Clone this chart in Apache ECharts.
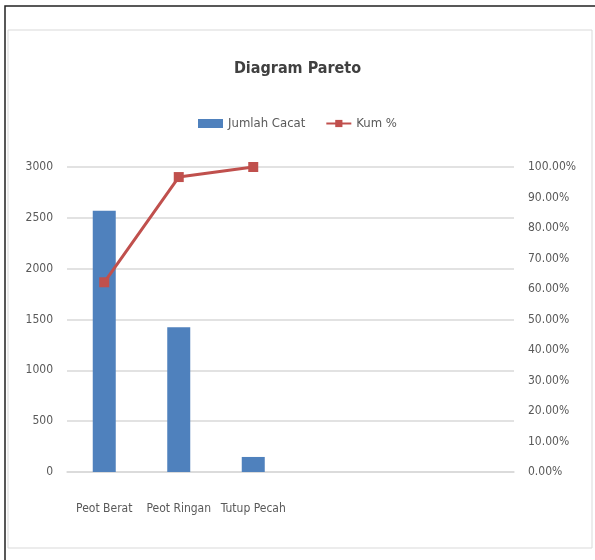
<!DOCTYPE html>
<html>
<head>
<meta charset="utf-8">
<script src="https://cdn.jsdelivr.net/npm/echarts@6/dist/echarts.min.js"></script>
<style>
  html, body { margin: 0; padding: 0; background: #fff; }
  #chart { width: 595px; height: 560px; }
</style>
</head>
<body>
<div id="chart"></div>
<script>
// data
var categories = ['Peot Berat', 'Peot Ringan', 'Tutup Pecah', '', '', ''];
var jumlahCacat = [2570, 1423, 148];
var kumPersen = [62.2, 96.7, 100];
var leftTicks = { min: 0, max: 3000, interval: 500 };
var rightTicks = { min: 0, max: 100, interval: 10 };

var font = '"DejaVu Sans Condensed", "Liberation Sans", sans-serif';
var myChart = echarts.init(document.getElementById('chart'));

var option = {
  animation: false,
  textStyle: { fontFamily: font },
  graphic: [
    { type: 'rect', shape: { x: 5, y: 6, width: 600, height: 600 },
      style: { fill: 'none', stroke: '#222', lineWidth: 1.5 }, silent: true },
    { type: 'rect', shape: { x: 8, y: 30, width: 584, height: 518 },
      style: { fill: 'none', stroke: '#d9d9d9', lineWidth: 1 }, silent: true }
  ],
  title: {
    text: 'Diagram Pareto',
    left: 'center',
    top: 56,
    textStyle: { fontFamily: font, fontSize: 16, fontWeight: 'bold', color: '#404040' }
  },
  legend: {
    top: 112,
    left: 'center',
    itemWidth: 25,
    itemHeight: 9,
    itemGap: 20,
    textStyle: { fontFamily: font, fontSize: 13, color: '#595959' },
    data: [{ name: 'Jumlah Cacat', icon: 'rect' }, 'Kum %']
  },
  grid: { left: 67, right: 81, top: 167, bottom: 88 },
  xAxis: {
    type: 'category',
    data: categories,
    axisTick: { show: false },
    axisLine: { lineStyle: { color: '#d9d9d9', width: 1.5 } },
    axisLabel: { margin: 31, fontFamily: font, fontSize: 12, color: '#595959', interval: 0 }
  },
  yAxis: [
    {
      type: 'value',
      min: leftTicks.min, max: leftTicks.max, interval: leftTicks.interval,
      axisLine: { show: false },
      axisTick: { show: false },
      splitLine: { lineStyle: { color: '#d9d9d9', width: 1.5 } },
      axisLabel: {
        margin: 14, fontFamily: font, fontSize: 12, color: '#595959',
        formatter: function (v) { return String(v); }
      }
    },
    {
      type: 'value',
      min: rightTicks.min, max: rightTicks.max, interval: rightTicks.interval,
      axisLine: { show: false },
      axisTick: { show: false },
      splitLine: { show: false },
      axisLabel: {
        margin: 14, fontFamily: font, fontSize: 12, color: '#595959',
        formatter: function (v) { return v.toFixed(2) + '%'; }
      }
    }
  ],
  series: [
    {
      name: 'Jumlah Cacat',
      type: 'bar',
      data: jumlahCacat,
      barWidth: 23,
      itemStyle: { color: '#4f81bd' }
    },
    {
      name: 'Kum %',
      type: 'line',
      yAxisIndex: 1,
      data: kumPersen,
      symbol: 'rect',
      symbolSize: 10,
      lineStyle: { color: '#c0504d', width: 3 },
      itemStyle: { color: '#c0504d' }
    }
  ]
};

myChart.setOption(option);
</script>
</body>
</html>
